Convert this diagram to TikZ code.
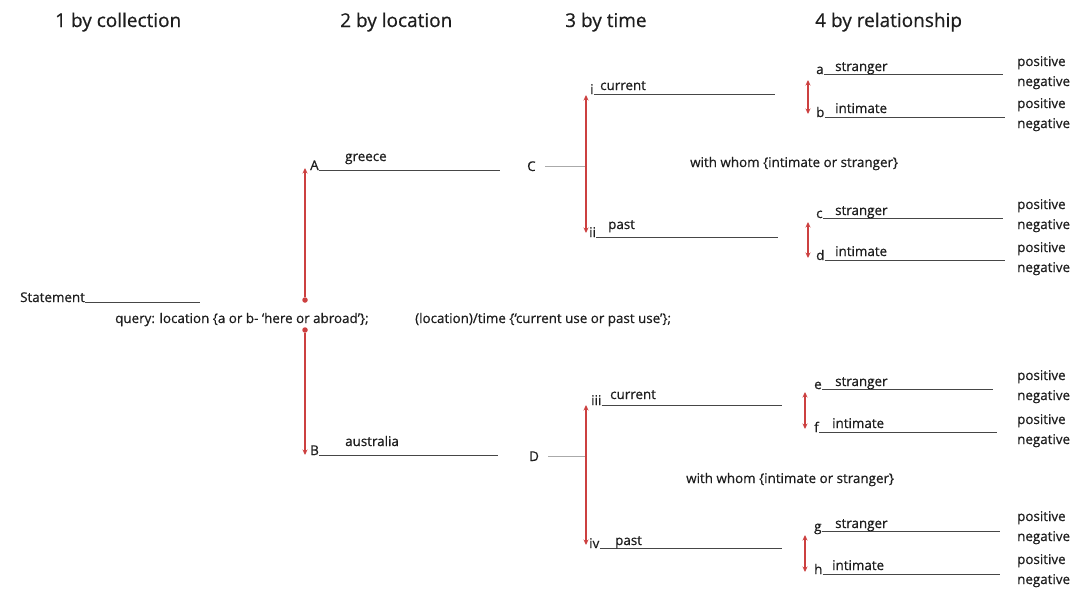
\documentclass[tikz,border=0pt]{standalone}
\usepackage{fontspec}
\setmainfont{Open Sans}
\newfontfamily\inkfont{Open Sans}[FakeBold=0.6]
\usetikzlibrary{arrows.meta}
\definecolor{linkred}{RGB}{204,64,64}
\definecolor{rulegray}{RGB}{70,70,70}
\definecolor{stubgray}{RGB}{170,170,170}
\definecolor{inkgray}{RGB}{30,30,30}
\tikzset{
  head/.style={anchor=base west, inner sep=0pt, text=inkgray, font=\inkfont\fontsize{19}{22}\selectfont},
  lbl/.style={anchor=base west, inner sep=0pt, text=inkgray, font=\inkfont\fontsize{13.4}{15}\selectfont},
  blank/.style={draw=rulegray, line width=1pt},
  stub/.style={draw=stubgray, line width=0.9pt},
  tipr/.tip={Stealth[length=5.5pt,width=5pt]},
  linkup/.style={draw=linkred, line width=1.2pt, -tipr},
  pair/.style={draw=linkred, line width=1.2pt, tipr-tipr},
  knob/.style={circle, fill=linkred, inner sep=0pt, minimum size=5.5pt}
}
\begin{document}
\begin{tikzpicture}[x=1pt,y=-1pt]
\useasboundingbox (0,0) rectangle (1088,592);

% column headings
\node[head] (h1) at (55,27) {1 by collection};
\node[head] (h2) at (340,27) {2 by location};
\node[head] (h3) at (565,27) {3 by time};
\node[head] (h4) at (815,27) {4 by relationship};

% statement and first query
\node[lbl] (st) at (20,302) {Statement};
\coordinate (stE) at (200,302);
\draw[blank] (st.base east) -- (stE);
\node[lbl] (q1) at (115,323) {query: location \{a or b- ‘here or abroad’\};};
\node[lbl] (q2) at (415,323) {(location)/time \{‘current use or past use’\};};

% location branch
\node[knob] (k1) at (305,300) {};
\node[knob] (k2) at (305,330) {};
\coordinate (upA) at (305,168);
\coordinate (dnB) at (305,455);
\draw[linkup] (k1) -- (upA);
\draw[linkup] (k2) -- (dnB);

\node[lbl] (A) at (310,170) {A};
\coordinate (AE) at (500,170);
\draw[blank] (A.base east) -- (AE);
\node[lbl] (greece) at (345,161) {greece};

\node[lbl] (B) at (310,455) {B};
\coordinate (BE) at (498,455);
\draw[blank] (B.base east) -- (BE);
\node[lbl] (aus) at (345,446) {australia};

% time branch, upper
\node[lbl] (C) at (527,171) {C};
\coordinate (tI) at (586,95);
\coordinate (tII) at (586,233);
\draw[stub] ([xshift=9pt]C.east) -- (C.east -| tI);
\draw[pair] (tI) -- (tII);

\node[lbl] (i) at (590,94) {i};
\coordinate (iE) at (775,94);
\draw[blank] (i.base east) -- (iE);
\node[lbl] (cur1) at (600,90) {current};

\node[lbl] (ii) at (589,237) {ii};
\coordinate (iiE) at (778,237);
\draw[blank] (ii.base east) -- (iiE);
\node[lbl] (past1) at (608,229) {past};

% time branch, lower
\node[lbl] (D) at (529,461) {D};
\coordinate (tIII) at (586,405);
\coordinate (tIV) at (586,545);
\draw[stub] ([xshift=9pt]D.east) -- (D.east -| tIII);
\draw[pair] (tIII) -- (tIV);

\node[lbl] (iii) at (591,405) {iii};
\coordinate (iiiE) at (782,405);
\draw[blank] (iii.base east) -- (iiiE);
\node[lbl] (cur2) at (610,399) {current};

\node[lbl] (iv) at (589,548) {iv};
\coordinate (ivE) at (782,548);
\draw[blank] (iv.base east) -- (ivE);
\node[lbl] (past2) at (615,545) {past};

% relationship queries
\node[lbl] (w1) at (690,167) {with whom \{intimate or stranger\}};
\node[lbl] (w2) at (686,483) {with whom \{intimate or stranger\}};

% relationship pairs: letter, word, blank, end of blank
\foreach \n/\lx/\ly/\wx/\wy/\ex/\w in {
  a/816/74/835/71/1003/stranger,
  b/816/117/835/113/1005/intimate,
  c/816/218/835/215/1003/stranger,
  d/816/260/835/256/1005/intimate,
  e/814/389/835/386/993/stranger,
  f/814/432/832/428/997/intimate,
  g/814/531/835/528/1000/stranger,
  h/814/574/832/570/1000/intimate}{
  \node[lbl] (\n) at (\lx,\ly) {\n};
  \coordinate (\n E) at (\ex,\ly);
  \draw[blank] (\n.base east) -- (\n E);
  \node[lbl] (\n w) at (\wx,\wy) {\w};
}

\coordinate (ab1) at (808,80);  \coordinate (ab2) at (808,114);
\coordinate (cd1) at (808,222); \coordinate (cd2) at (808,258);
\coordinate (ef1) at (805,392); \coordinate (ef2) at (805,429);
\coordinate (gh1) at (805,535); \coordinate (gh2) at (805,572);
\draw[pair] (ab1) -- (ab2);
\draw[pair] (cd1) -- (cd2);
\draw[pair] (ef1) -- (ef2);
\draw[pair] (gh1) -- (gh2);

% outcome rows beside each blank
\foreach \k/\y in {1/66,2/108,3/209,4/252,5/380,6/424,7/521,8/564}{
  \node[lbl] (pos\k) at (1017,\y) {positive};
  \node[lbl] (neg\k) at (1017,\y+20) {negative};
}
\end{tikzpicture}
\end{document}
